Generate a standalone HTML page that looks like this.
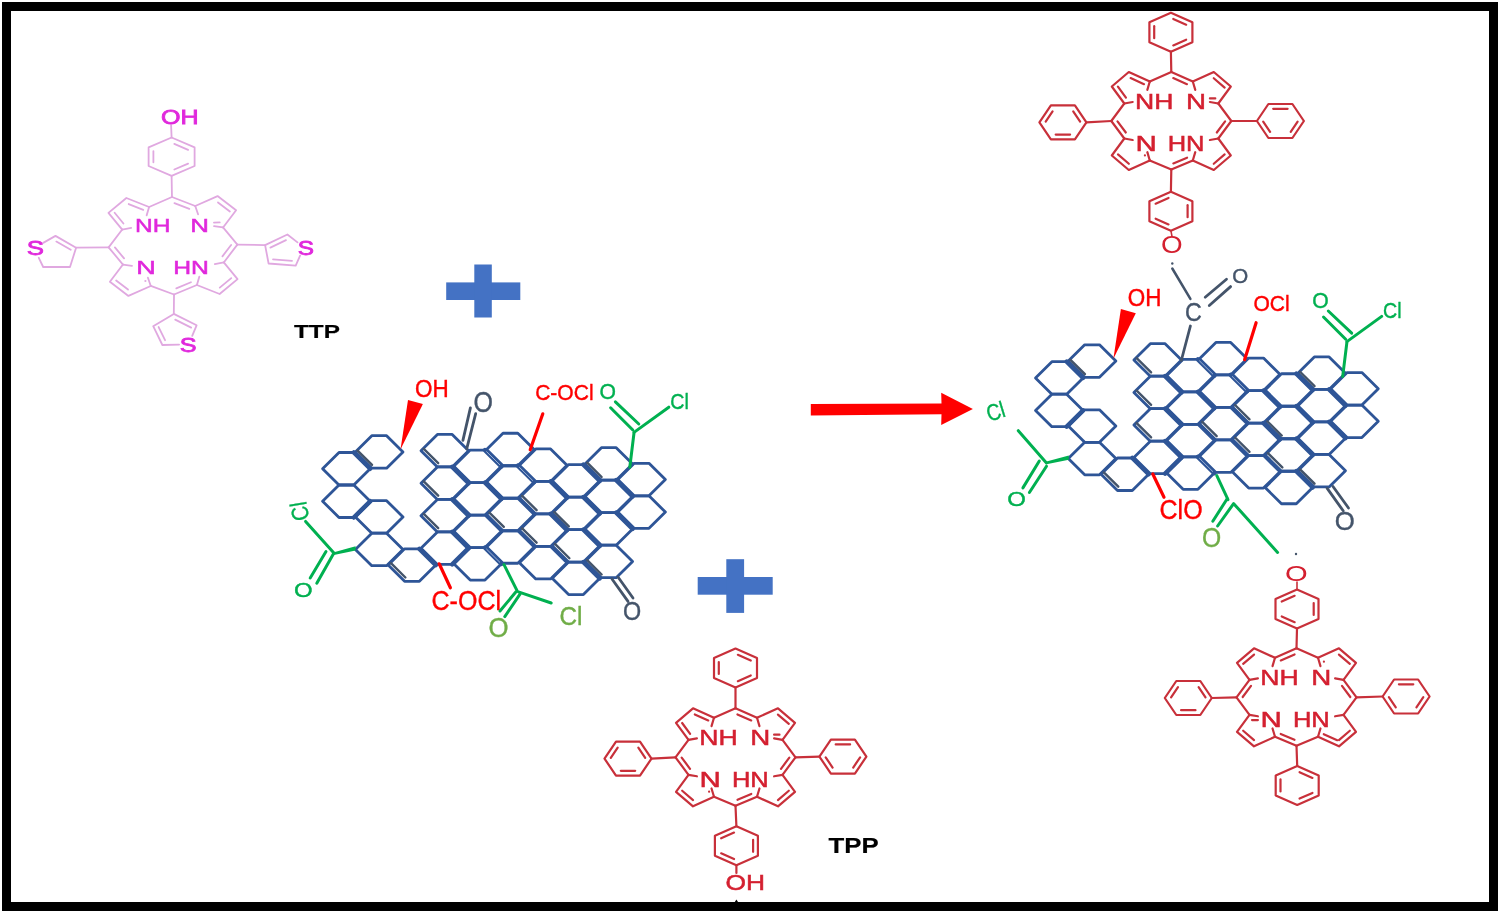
<!DOCTYPE html>
<html><head><meta charset="utf-8"><style>
html,body{margin:0;padding:0;background:#fff;width:1500px;height:913px;overflow:hidden}
svg{display:block;will-change:transform}
text{font-family:"Liberation Sans",sans-serif}
</style></head><body>
<svg width="1500" height="913" viewBox="0 0 1500 913">
<rect x="2" y="2" width="1496" height="909" fill="#000"/>
<rect x="11" y="11" width="1478" height="891" fill="#fff"/>
<rect x="446.2" y="282.4" width="74.1" height="17.6" fill="#4472C4"/>
<rect x="474.3" y="264.5" width="17.5" height="53" fill="#4472C4"/>
<rect x="697.7" y="577" width="75" height="17.7" fill="#4472C4"/>
<rect x="726.3" y="559.2" width="17.8" height="53.7" fill="#4472C4"/>
<path d="M810.8,404.1 L941.5,403.4 L941.2,392.7 L972.9,409.1 L941.2,425 L941.5,414.2 L810.8,415.5 Z" fill="#FF0000"/>
<path d="M355.4,451.9 L371.8,435.65 L386.6,435.65 L403,451.9 L386.6,468.15 L371.8,468.15 Z" fill="none" stroke="#2E5597" stroke-width="2.8" stroke-linejoin="round" stroke-linecap="round"/>
<path d="M322.6,468.75 L339,452.5 L353.8,452.5 L370.2,468.75 L353.8,485 L339,485 Z" fill="none" stroke="#2E5597" stroke-width="2.8" stroke-linejoin="round" stroke-linecap="round"/>
<path d="M322.6,501.25 L339,485 L353.8,485 L370.2,501.25 L353.8,517.5 L339,517.5 Z" fill="none" stroke="#2E5597" stroke-width="2.8" stroke-linejoin="round" stroke-linecap="round"/>
<path d="M355.4,516.9 L371.8,500.65 L386.6,500.65 L403,516.9 L386.6,533.15 L371.8,533.15 Z" fill="none" stroke="#2E5597" stroke-width="2.8" stroke-linejoin="round" stroke-linecap="round"/>
<path d="M355.4,549.4 L371.8,533.15 L386.6,533.15 L403,549.4 L386.6,565.65 L371.8,565.65 Z" fill="none" stroke="#2E5597" stroke-width="2.8" stroke-linejoin="round" stroke-linecap="round"/>
<path d="M388.2,565.05 L404.6,548.8 L419.4,548.8 L435.8,565.05 L419.4,581.3 L404.6,581.3 Z" fill="none" stroke="#2E5597" stroke-width="2.8" stroke-linejoin="round" stroke-linecap="round"/>
<path d="M421,450.7 L437.4,434.45 L452.2,434.45 L468.6,450.7 L452.2,466.95 L437.4,466.95 Z" fill="none" stroke="#2E5597" stroke-width="2.8" stroke-linejoin="round" stroke-linecap="round"/>
<path d="M421,483.2 L437.4,466.95 L452.2,466.95 L468.6,483.2 L452.2,499.45 L437.4,499.45 Z" fill="none" stroke="#2E5597" stroke-width="2.8" stroke-linejoin="round" stroke-linecap="round"/>
<path d="M421,515.7 L437.4,499.45 L452.2,499.45 L468.6,515.7 L452.2,531.95 L437.4,531.95 Z" fill="none" stroke="#2E5597" stroke-width="2.8" stroke-linejoin="round" stroke-linecap="round"/>
<path d="M421,548.2 L437.4,531.95 L452.2,531.95 L468.6,548.2 L452.2,564.45 L437.4,564.45 Z" fill="none" stroke="#2E5597" stroke-width="2.8" stroke-linejoin="round" stroke-linecap="round"/>
<path d="M453.8,466.35 L470.2,450.1 L485,450.1 L501.4,466.35 L485,482.6 L470.2,482.6 Z" fill="none" stroke="#2E5597" stroke-width="2.8" stroke-linejoin="round" stroke-linecap="round"/>
<path d="M453.8,498.85 L470.2,482.6 L485,482.6 L501.4,498.85 L485,515.1 L470.2,515.1 Z" fill="none" stroke="#2E5597" stroke-width="2.8" stroke-linejoin="round" stroke-linecap="round"/>
<path d="M453.8,531.35 L470.2,515.1 L485,515.1 L501.4,531.35 L485,547.6 L470.2,547.6 Z" fill="none" stroke="#2E5597" stroke-width="2.8" stroke-linejoin="round" stroke-linecap="round"/>
<path d="M453.8,563.85 L470.2,547.6 L485,547.6 L501.4,563.85 L485,580.1 L470.2,580.1 Z" fill="none" stroke="#2E5597" stroke-width="2.8" stroke-linejoin="round" stroke-linecap="round"/>
<path d="M486.6,449.5 L503,433.25 L517.8,433.25 L534.2,449.5 L517.8,465.75 L503,465.75 Z" fill="none" stroke="#2E5597" stroke-width="2.8" stroke-linejoin="round" stroke-linecap="round"/>
<path d="M486.6,482 L503,465.75 L517.8,465.75 L534.2,482 L517.8,498.25 L503,498.25 Z" fill="none" stroke="#2E5597" stroke-width="2.8" stroke-linejoin="round" stroke-linecap="round"/>
<path d="M486.6,514.5 L503,498.25 L517.8,498.25 L534.2,514.5 L517.8,530.75 L503,530.75 Z" fill="none" stroke="#2E5597" stroke-width="2.8" stroke-linejoin="round" stroke-linecap="round"/>
<path d="M486.6,547 L503,530.75 L517.8,530.75 L534.2,547 L517.8,563.25 L503,563.25 Z" fill="none" stroke="#2E5597" stroke-width="2.8" stroke-linejoin="round" stroke-linecap="round"/>
<path d="M519.4,465.15 L535.8,448.9 L550.6,448.9 L567,465.15 L550.6,481.4 L535.8,481.4 Z" fill="none" stroke="#2E5597" stroke-width="2.8" stroke-linejoin="round" stroke-linecap="round"/>
<path d="M519.4,497.65 L535.8,481.4 L550.6,481.4 L567,497.65 L550.6,513.9 L535.8,513.9 Z" fill="none" stroke="#2E5597" stroke-width="2.8" stroke-linejoin="round" stroke-linecap="round"/>
<path d="M519.4,530.15 L535.8,513.9 L550.6,513.9 L567,530.15 L550.6,546.4 L535.8,546.4 Z" fill="none" stroke="#2E5597" stroke-width="2.8" stroke-linejoin="round" stroke-linecap="round"/>
<path d="M519.4,562.65 L535.8,546.4 L550.6,546.4 L567,562.65 L550.6,578.9 L535.8,578.9 Z" fill="none" stroke="#2E5597" stroke-width="2.8" stroke-linejoin="round" stroke-linecap="round"/>
<path d="M552.2,480.8 L568.6,464.55 L583.4,464.55 L599.8,480.8 L583.4,497.05 L568.6,497.05 Z" fill="none" stroke="#2E5597" stroke-width="2.8" stroke-linejoin="round" stroke-linecap="round"/>
<path d="M552.2,513.3 L568.6,497.05 L583.4,497.05 L599.8,513.3 L583.4,529.55 L568.6,529.55 Z" fill="none" stroke="#2E5597" stroke-width="2.8" stroke-linejoin="round" stroke-linecap="round"/>
<path d="M552.2,545.8 L568.6,529.55 L583.4,529.55 L599.8,545.8 L583.4,562.05 L568.6,562.05 Z" fill="none" stroke="#2E5597" stroke-width="2.8" stroke-linejoin="round" stroke-linecap="round"/>
<path d="M552.2,578.3 L568.6,562.05 L583.4,562.05 L599.8,578.3 L583.4,594.55 L568.6,594.55 Z" fill="none" stroke="#2E5597" stroke-width="2.8" stroke-linejoin="round" stroke-linecap="round"/>
<path d="M585,463.95 L601.4,447.7 L616.2,447.7 L632.6,463.95 L616.2,480.2 L601.4,480.2 Z" fill="none" stroke="#2E5597" stroke-width="2.8" stroke-linejoin="round" stroke-linecap="round"/>
<path d="M585,496.45 L601.4,480.2 L616.2,480.2 L632.6,496.45 L616.2,512.7 L601.4,512.7 Z" fill="none" stroke="#2E5597" stroke-width="2.8" stroke-linejoin="round" stroke-linecap="round"/>
<path d="M585,528.95 L601.4,512.7 L616.2,512.7 L632.6,528.95 L616.2,545.2 L601.4,545.2 Z" fill="none" stroke="#2E5597" stroke-width="2.8" stroke-linejoin="round" stroke-linecap="round"/>
<path d="M585,561.45 L601.4,545.2 L616.2,545.2 L632.6,561.45 L616.2,577.7 L601.4,577.7 Z" fill="none" stroke="#2E5597" stroke-width="2.8" stroke-linejoin="round" stroke-linecap="round"/>
<path d="M617.8,479.6 L634.2,463.35 L649,463.35 L665.4,479.6 L649,495.85 L634.2,495.85 Z" fill="none" stroke="#2E5597" stroke-width="2.8" stroke-linejoin="round" stroke-linecap="round"/>
<path d="M617.8,512.1 L634.2,495.85 L649,495.85 L665.4,512.1 L649,528.35 L634.2,528.35 Z" fill="none" stroke="#2E5597" stroke-width="2.8" stroke-linejoin="round" stroke-linecap="round"/>
<line x1="353.8" y1="452.5" x2="370.2" y2="468.75" stroke="#2E5597" stroke-width="4.5" stroke-linecap="round"/>
<line x1="357.6" y1="450.63" x2="372.03" y2="464.93" stroke="#44546A" stroke-width="2.4" stroke-linecap="round"/>
<line x1="419.4" y1="548.8" x2="435.8" y2="565.05" stroke="#2E5597" stroke-width="4.5" stroke-linecap="round"/>
<line x1="423.76" y1="448.87" x2="438.19" y2="463.17" stroke="#44546A" stroke-width="2.4" stroke-linecap="round"/>
<line x1="423.76" y1="481.37" x2="438.19" y2="495.67" stroke="#44546A" stroke-width="2.4" stroke-linecap="round"/>
<line x1="423.76" y1="513.87" x2="438.19" y2="528.17" stroke="#44546A" stroke-width="2.4" stroke-linecap="round"/>
<line x1="390.96" y1="563.22" x2="405.39" y2="577.52" stroke="#44546A" stroke-width="2.4" stroke-linecap="round"/>
<line x1="452.2" y1="466.95" x2="468.6" y2="483.2" stroke="#2E5597" stroke-width="4.5" stroke-linecap="round"/>
<line x1="452.2" y1="499.45" x2="468.6" y2="515.7" stroke="#2E5597" stroke-width="4.5" stroke-linecap="round"/>
<line x1="452.2" y1="531.95" x2="468.6" y2="548.2" stroke="#2E5597" stroke-width="4.5" stroke-linecap="round"/>
<line x1="485" y1="450.1" x2="501.4" y2="466.35" stroke="#2E5597" stroke-width="4.5" stroke-linecap="round"/>
<line x1="486.64" y1="451.72" x2="499.76" y2="464.72" stroke="#9DB3D8" stroke-width="1" stroke-linecap="round"/>
<line x1="485" y1="482.6" x2="501.4" y2="498.85" stroke="#2E5597" stroke-width="4.5" stroke-linecap="round"/>
<line x1="489.36" y1="512.67" x2="503.79" y2="526.97" stroke="#44546A" stroke-width="2.4" stroke-linecap="round"/>
<line x1="485" y1="547.6" x2="501.4" y2="563.85" stroke="#2E5597" stroke-width="4.5" stroke-linecap="round"/>
<line x1="486.64" y1="549.22" x2="499.76" y2="562.22" stroke="#9DB3D8" stroke-width="1" stroke-linecap="round"/>
<line x1="517.8" y1="465.75" x2="534.2" y2="482" stroke="#2E5597" stroke-width="4.5" stroke-linecap="round"/>
<line x1="519.44" y1="467.38" x2="532.56" y2="480.38" stroke="#9DB3D8" stroke-width="1" stroke-linecap="round"/>
<line x1="522.16" y1="495.82" x2="536.59" y2="510.12" stroke="#44546A" stroke-width="2.4" stroke-linecap="round"/>
<line x1="522.16" y1="528.32" x2="536.59" y2="542.62" stroke="#44546A" stroke-width="2.4" stroke-linecap="round"/>
<line x1="550.6" y1="481.4" x2="567" y2="497.65" stroke="#2E5597" stroke-width="4.5" stroke-linecap="round"/>
<line x1="550.6" y1="513.9" x2="567" y2="530.15" stroke="#2E5597" stroke-width="4.5" stroke-linecap="round"/>
<line x1="554.4" y1="512.03" x2="568.83" y2="526.33" stroke="#44546A" stroke-width="2.4" stroke-linecap="round"/>
<line x1="554.96" y1="543.97" x2="569.39" y2="558.27" stroke="#44546A" stroke-width="2.4" stroke-linecap="round"/>
<line x1="583.4" y1="464.55" x2="599.8" y2="480.8" stroke="#2E5597" stroke-width="4.5" stroke-linecap="round"/>
<line x1="587.2" y1="462.68" x2="601.63" y2="476.98" stroke="#44546A" stroke-width="2.4" stroke-linecap="round"/>
<line x1="583.4" y1="497.05" x2="599.8" y2="513.3" stroke="#2E5597" stroke-width="4.5" stroke-linecap="round"/>
<line x1="583.4" y1="529.55" x2="599.8" y2="545.8" stroke="#2E5597" stroke-width="4.5" stroke-linecap="round"/>
<line x1="583.4" y1="562.05" x2="599.8" y2="578.3" stroke="#2E5597" stroke-width="4.5" stroke-linecap="round"/>
<line x1="587.2" y1="560.18" x2="601.63" y2="574.48" stroke="#44546A" stroke-width="2.4" stroke-linecap="round"/>
<line x1="616.2" y1="480.2" x2="632.6" y2="496.45" stroke="#2E5597" stroke-width="4.5" stroke-linecap="round"/>
<line x1="616.2" y1="512.7" x2="632.6" y2="528.95" stroke="#2E5597" stroke-width="4.5" stroke-linecap="round"/>
<line x1="370.2" y1="501.25" x2="353.8" y2="517.5" stroke="#2E5597" stroke-width="4.5" stroke-linecap="round"/>
<line x1="468.6" y1="548.2" x2="452.2" y2="564.45" stroke="#2E5597" stroke-width="4.5" stroke-linecap="round"/>
<path d="M1068.3,361.1 L1084.7,344.85 L1099.5,344.85 L1115.9,361.1 L1099.5,377.35 L1084.7,377.35 Z" fill="none" stroke="#2E5597" stroke-width="2.8" stroke-linejoin="round" stroke-linecap="round"/>
<path d="M1035.5,377.95 L1051.9,361.7 L1066.7,361.7 L1083.1,377.95 L1066.7,394.2 L1051.9,394.2 Z" fill="none" stroke="#2E5597" stroke-width="2.8" stroke-linejoin="round" stroke-linecap="round"/>
<path d="M1035.5,410.45 L1051.9,394.2 L1066.7,394.2 L1083.1,410.45 L1066.7,426.7 L1051.9,426.7 Z" fill="none" stroke="#2E5597" stroke-width="2.8" stroke-linejoin="round" stroke-linecap="round"/>
<path d="M1068.3,426.1 L1084.7,409.85 L1099.5,409.85 L1115.9,426.1 L1099.5,442.35 L1084.7,442.35 Z" fill="none" stroke="#2E5597" stroke-width="2.8" stroke-linejoin="round" stroke-linecap="round"/>
<path d="M1068.3,458.6 L1084.7,442.35 L1099.5,442.35 L1115.9,458.6 L1099.5,474.85 L1084.7,474.85 Z" fill="none" stroke="#2E5597" stroke-width="2.8" stroke-linejoin="round" stroke-linecap="round"/>
<path d="M1101.1,474.25 L1117.5,458 L1132.3,458 L1148.7,474.25 L1132.3,490.5 L1117.5,490.5 Z" fill="none" stroke="#2E5597" stroke-width="2.8" stroke-linejoin="round" stroke-linecap="round"/>
<path d="M1133.9,359.9 L1150.3,343.65 L1165.1,343.65 L1181.5,359.9 L1165.1,376.15 L1150.3,376.15 Z" fill="none" stroke="#2E5597" stroke-width="2.8" stroke-linejoin="round" stroke-linecap="round"/>
<path d="M1133.9,392.4 L1150.3,376.15 L1165.1,376.15 L1181.5,392.4 L1165.1,408.65 L1150.3,408.65 Z" fill="none" stroke="#2E5597" stroke-width="2.8" stroke-linejoin="round" stroke-linecap="round"/>
<path d="M1133.9,424.9 L1150.3,408.65 L1165.1,408.65 L1181.5,424.9 L1165.1,441.15 L1150.3,441.15 Z" fill="none" stroke="#2E5597" stroke-width="2.8" stroke-linejoin="round" stroke-linecap="round"/>
<path d="M1133.9,457.4 L1150.3,441.15 L1165.1,441.15 L1181.5,457.4 L1165.1,473.65 L1150.3,473.65 Z" fill="none" stroke="#2E5597" stroke-width="2.8" stroke-linejoin="round" stroke-linecap="round"/>
<path d="M1166.7,375.55 L1183.1,359.3 L1197.9,359.3 L1214.3,375.55 L1197.9,391.8 L1183.1,391.8 Z" fill="none" stroke="#2E5597" stroke-width="2.8" stroke-linejoin="round" stroke-linecap="round"/>
<path d="M1166.7,408.05 L1183.1,391.8 L1197.9,391.8 L1214.3,408.05 L1197.9,424.3 L1183.1,424.3 Z" fill="none" stroke="#2E5597" stroke-width="2.8" stroke-linejoin="round" stroke-linecap="round"/>
<path d="M1166.7,440.55 L1183.1,424.3 L1197.9,424.3 L1214.3,440.55 L1197.9,456.8 L1183.1,456.8 Z" fill="none" stroke="#2E5597" stroke-width="2.8" stroke-linejoin="round" stroke-linecap="round"/>
<path d="M1166.7,473.05 L1183.1,456.8 L1197.9,456.8 L1214.3,473.05 L1197.9,489.3 L1183.1,489.3 Z" fill="none" stroke="#2E5597" stroke-width="2.8" stroke-linejoin="round" stroke-linecap="round"/>
<path d="M1199.5,358.7 L1215.9,342.45 L1230.7,342.45 L1247.1,358.7 L1230.7,374.95 L1215.9,374.95 Z" fill="none" stroke="#2E5597" stroke-width="2.8" stroke-linejoin="round" stroke-linecap="round"/>
<path d="M1199.5,391.2 L1215.9,374.95 L1230.7,374.95 L1247.1,391.2 L1230.7,407.45 L1215.9,407.45 Z" fill="none" stroke="#2E5597" stroke-width="2.8" stroke-linejoin="round" stroke-linecap="round"/>
<path d="M1199.5,423.7 L1215.9,407.45 L1230.7,407.45 L1247.1,423.7 L1230.7,439.95 L1215.9,439.95 Z" fill="none" stroke="#2E5597" stroke-width="2.8" stroke-linejoin="round" stroke-linecap="round"/>
<path d="M1199.5,456.2 L1215.9,439.95 L1230.7,439.95 L1247.1,456.2 L1230.7,472.45 L1215.9,472.45 Z" fill="none" stroke="#2E5597" stroke-width="2.8" stroke-linejoin="round" stroke-linecap="round"/>
<path d="M1232.3,374.35 L1248.7,358.1 L1263.5,358.1 L1279.9,374.35 L1263.5,390.6 L1248.7,390.6 Z" fill="none" stroke="#2E5597" stroke-width="2.8" stroke-linejoin="round" stroke-linecap="round"/>
<path d="M1232.3,406.85 L1248.7,390.6 L1263.5,390.6 L1279.9,406.85 L1263.5,423.1 L1248.7,423.1 Z" fill="none" stroke="#2E5597" stroke-width="2.8" stroke-linejoin="round" stroke-linecap="round"/>
<path d="M1232.3,439.35 L1248.7,423.1 L1263.5,423.1 L1279.9,439.35 L1263.5,455.6 L1248.7,455.6 Z" fill="none" stroke="#2E5597" stroke-width="2.8" stroke-linejoin="round" stroke-linecap="round"/>
<path d="M1232.3,471.85 L1248.7,455.6 L1263.5,455.6 L1279.9,471.85 L1263.5,488.1 L1248.7,488.1 Z" fill="none" stroke="#2E5597" stroke-width="2.8" stroke-linejoin="round" stroke-linecap="round"/>
<path d="M1265.1,390 L1281.5,373.75 L1296.3,373.75 L1312.7,390 L1296.3,406.25 L1281.5,406.25 Z" fill="none" stroke="#2E5597" stroke-width="2.8" stroke-linejoin="round" stroke-linecap="round"/>
<path d="M1265.1,422.5 L1281.5,406.25 L1296.3,406.25 L1312.7,422.5 L1296.3,438.75 L1281.5,438.75 Z" fill="none" stroke="#2E5597" stroke-width="2.8" stroke-linejoin="round" stroke-linecap="round"/>
<path d="M1265.1,455 L1281.5,438.75 L1296.3,438.75 L1312.7,455 L1296.3,471.25 L1281.5,471.25 Z" fill="none" stroke="#2E5597" stroke-width="2.8" stroke-linejoin="round" stroke-linecap="round"/>
<path d="M1265.1,487.5 L1281.5,471.25 L1296.3,471.25 L1312.7,487.5 L1296.3,503.75 L1281.5,503.75 Z" fill="none" stroke="#2E5597" stroke-width="2.8" stroke-linejoin="round" stroke-linecap="round"/>
<path d="M1297.9,373.15 L1314.3,356.9 L1329.1,356.9 L1345.5,373.15 L1329.1,389.4 L1314.3,389.4 Z" fill="none" stroke="#2E5597" stroke-width="2.8" stroke-linejoin="round" stroke-linecap="round"/>
<path d="M1297.9,405.65 L1314.3,389.4 L1329.1,389.4 L1345.5,405.65 L1329.1,421.9 L1314.3,421.9 Z" fill="none" stroke="#2E5597" stroke-width="2.8" stroke-linejoin="round" stroke-linecap="round"/>
<path d="M1297.9,438.15 L1314.3,421.9 L1329.1,421.9 L1345.5,438.15 L1329.1,454.4 L1314.3,454.4 Z" fill="none" stroke="#2E5597" stroke-width="2.8" stroke-linejoin="round" stroke-linecap="round"/>
<path d="M1297.9,470.65 L1314.3,454.4 L1329.1,454.4 L1345.5,470.65 L1329.1,486.9 L1314.3,486.9 Z" fill="none" stroke="#2E5597" stroke-width="2.8" stroke-linejoin="round" stroke-linecap="round"/>
<path d="M1330.7,388.8 L1347.1,372.55 L1361.9,372.55 L1378.3,388.8 L1361.9,405.05 L1347.1,405.05 Z" fill="none" stroke="#2E5597" stroke-width="2.8" stroke-linejoin="round" stroke-linecap="round"/>
<path d="M1330.7,421.3 L1347.1,405.05 L1361.9,405.05 L1378.3,421.3 L1361.9,437.55 L1347.1,437.55 Z" fill="none" stroke="#2E5597" stroke-width="2.8" stroke-linejoin="round" stroke-linecap="round"/>
<line x1="1066.7" y1="361.7" x2="1083.1" y2="377.95" stroke="#2E5597" stroke-width="4.5" stroke-linecap="round"/>
<line x1="1070.5" y1="359.83" x2="1084.93" y2="374.13" stroke="#44546A" stroke-width="2.4" stroke-linecap="round"/>
<line x1="1132.3" y1="458" x2="1148.7" y2="474.25" stroke="#2E5597" stroke-width="4.5" stroke-linecap="round"/>
<line x1="1136.66" y1="358.07" x2="1151.09" y2="372.37" stroke="#44546A" stroke-width="2.4" stroke-linecap="round"/>
<line x1="1136.66" y1="390.57" x2="1151.09" y2="404.87" stroke="#44546A" stroke-width="2.4" stroke-linecap="round"/>
<line x1="1136.66" y1="423.07" x2="1151.09" y2="437.37" stroke="#44546A" stroke-width="2.4" stroke-linecap="round"/>
<line x1="1103.86" y1="472.42" x2="1118.29" y2="486.72" stroke="#44546A" stroke-width="2.4" stroke-linecap="round"/>
<line x1="1165.1" y1="376.15" x2="1181.5" y2="392.4" stroke="#2E5597" stroke-width="4.5" stroke-linecap="round"/>
<line x1="1165.1" y1="408.65" x2="1181.5" y2="424.9" stroke="#2E5597" stroke-width="4.5" stroke-linecap="round"/>
<line x1="1165.1" y1="441.15" x2="1181.5" y2="457.4" stroke="#2E5597" stroke-width="4.5" stroke-linecap="round"/>
<line x1="1197.9" y1="359.3" x2="1214.3" y2="375.55" stroke="#2E5597" stroke-width="4.5" stroke-linecap="round"/>
<line x1="1199.54" y1="360.92" x2="1212.66" y2="373.92" stroke="#9DB3D8" stroke-width="1" stroke-linecap="round"/>
<line x1="1197.9" y1="391.8" x2="1214.3" y2="408.05" stroke="#2E5597" stroke-width="4.5" stroke-linecap="round"/>
<line x1="1202.26" y1="421.87" x2="1216.69" y2="436.17" stroke="#44546A" stroke-width="2.4" stroke-linecap="round"/>
<line x1="1197.9" y1="456.8" x2="1214.3" y2="473.05" stroke="#2E5597" stroke-width="4.5" stroke-linecap="round"/>
<line x1="1199.54" y1="458.42" x2="1212.66" y2="471.42" stroke="#9DB3D8" stroke-width="1" stroke-linecap="round"/>
<line x1="1230.7" y1="374.95" x2="1247.1" y2="391.2" stroke="#2E5597" stroke-width="4.5" stroke-linecap="round"/>
<line x1="1232.34" y1="376.57" x2="1245.46" y2="389.57" stroke="#9DB3D8" stroke-width="1" stroke-linecap="round"/>
<line x1="1235.06" y1="405.02" x2="1249.49" y2="419.32" stroke="#44546A" stroke-width="2.4" stroke-linecap="round"/>
<line x1="1235.06" y1="437.52" x2="1249.49" y2="451.82" stroke="#44546A" stroke-width="2.4" stroke-linecap="round"/>
<line x1="1263.5" y1="390.6" x2="1279.9" y2="406.85" stroke="#2E5597" stroke-width="4.5" stroke-linecap="round"/>
<line x1="1263.5" y1="423.1" x2="1279.9" y2="439.35" stroke="#2E5597" stroke-width="4.5" stroke-linecap="round"/>
<line x1="1267.3" y1="421.23" x2="1281.73" y2="435.53" stroke="#44546A" stroke-width="2.4" stroke-linecap="round"/>
<line x1="1267.86" y1="453.17" x2="1282.29" y2="467.47" stroke="#44546A" stroke-width="2.4" stroke-linecap="round"/>
<line x1="1296.3" y1="373.75" x2="1312.7" y2="390" stroke="#2E5597" stroke-width="4.5" stroke-linecap="round"/>
<line x1="1300.1" y1="371.88" x2="1314.53" y2="386.18" stroke="#44546A" stroke-width="2.4" stroke-linecap="round"/>
<line x1="1296.3" y1="406.25" x2="1312.7" y2="422.5" stroke="#2E5597" stroke-width="4.5" stroke-linecap="round"/>
<line x1="1296.3" y1="438.75" x2="1312.7" y2="455" stroke="#2E5597" stroke-width="4.5" stroke-linecap="round"/>
<line x1="1296.3" y1="471.25" x2="1312.7" y2="487.5" stroke="#2E5597" stroke-width="4.5" stroke-linecap="round"/>
<line x1="1300.1" y1="469.38" x2="1314.53" y2="483.68" stroke="#44546A" stroke-width="2.4" stroke-linecap="round"/>
<line x1="1329.1" y1="389.4" x2="1345.5" y2="405.65" stroke="#2E5597" stroke-width="4.5" stroke-linecap="round"/>
<line x1="1329.1" y1="421.9" x2="1345.5" y2="438.15" stroke="#2E5597" stroke-width="4.5" stroke-linecap="round"/>
<line x1="1083.1" y1="410.45" x2="1066.7" y2="426.7" stroke="#2E5597" stroke-width="4.5" stroke-linecap="round"/>
<line x1="1181.5" y1="457.4" x2="1165.1" y2="473.65" stroke="#2E5597" stroke-width="4.5" stroke-linecap="round"/>
<path d="M400.5,449.5 L408,399.9 L422.9,404.1 Z" fill="#FF0000"/>
<text transform="translate(414.93,396.96) scale(0.93,1)" font-size="24.15" fill="#FF0000" stroke="#FF0000" stroke-width="0.4">OH</text>
<line x1="629.8" y1="467.2" x2="634" y2="433" stroke="#00B050" stroke-width="3" stroke-linecap="round"/>
<line x1="634" y1="432.4" x2="668.8" y2="407.2" stroke="#00B050" stroke-width="3" stroke-linecap="round"/>
<line x1="632.8" y1="430" x2="610.6" y2="407.8" stroke="#00B050" stroke-width="3" stroke-linecap="round"/>
<line x1="638.8" y1="424" x2="615.4" y2="401.8" stroke="#00B050" stroke-width="3" stroke-linecap="round"/>
<text transform="translate(599.4,398.58) scale(0.96,1)" font-size="22.03" fill="#00B050" stroke="#00B050" stroke-width="0.4">O</text>
<text transform="translate(670.2,408.78) scale(0.86,1)" font-size="22.88" fill="#00B050" stroke="#00B050" stroke-width="0.4">Cl</text>
<path d="M1113.4,358.7 L1120.9,309.1 L1135.8,313.3 Z" fill="#FF0000"/>
<text transform="translate(1127.83,306.16) scale(0.93,1)" font-size="24.15" fill="#FF0000" stroke="#FF0000" stroke-width="0.4">OH</text>
<line x1="1342.7" y1="376.4" x2="1346.9" y2="342.2" stroke="#00B050" stroke-width="3" stroke-linecap="round"/>
<line x1="1346.9" y1="341.6" x2="1381.7" y2="316.4" stroke="#00B050" stroke-width="3" stroke-linecap="round"/>
<line x1="1345.7" y1="339.2" x2="1323.5" y2="317" stroke="#00B050" stroke-width="3" stroke-linecap="round"/>
<line x1="1351.7" y1="333.2" x2="1328.3" y2="311" stroke="#00B050" stroke-width="3" stroke-linecap="round"/>
<text transform="translate(1312.3,307.78) scale(0.96,1)" font-size="22.03" fill="#00B050" stroke="#00B050" stroke-width="0.4">O</text>
<text transform="translate(1383.1,317.98) scale(0.86,1)" font-size="22.88" fill="#00B050" stroke="#00B050" stroke-width="0.4">Cl</text>
<line x1="462.9" y1="440.4" x2="470.4" y2="407.9" stroke="#44546A" stroke-width="2.8" stroke-linecap="round"/>
<line x1="466.7" y1="448.9" x2="475.7" y2="413.7" stroke="#44546A" stroke-width="2.8" stroke-linecap="round"/>
<text transform="translate(473.52,412.42) scale(0.87,1)" font-size="28.67" fill="#44546A" stroke="#44546A" stroke-width="0.4">O</text>
<line x1="530.2" y1="449.8" x2="542.8" y2="413.8" stroke="#FF0000" stroke-width="3.2" stroke-linecap="round"/>
<text transform="translate(535.13,399.78) scale(0.92,1)" font-size="22.88" fill="#FF0000" stroke="#FF0000" stroke-width="0.4">C-OCl</text>
<text transform="translate(299.3,511.5) rotate(-100) translate(-9.38,8.37) scale(0.86,1)" font-size="23.42" fill="#00B050" stroke="#00B050" stroke-width="0.4">Cl</text>
<line x1="305.6" y1="521.4" x2="333.9" y2="552.9" stroke="#00B050" stroke-width="3" stroke-linecap="round"/>
<path d="M333.9,552.3 L355.6,546.3 L355.6,550.5 L333.9,555 Z" fill="#00B050"/>
<line x1="333.2" y1="554.2" x2="316.8" y2="583.2" stroke="#00B050" stroke-width="3" stroke-linecap="round"/>
<line x1="326" y1="551.6" x2="310.2" y2="577.9" stroke="#00B050" stroke-width="3" stroke-linecap="round"/>
<text transform="translate(293.96,596.81) scale(1.23,1)" font-size="19.49" fill="#00B050" stroke="#00B050" stroke-width="0.4">O</text>
<line x1="439.2" y1="563.8" x2="450.4" y2="587.8" stroke="#FF0000" stroke-width="3.2" stroke-linecap="round"/>
<text transform="translate(431.53,609.93) scale(0.92,1)" font-size="27.23" fill="#FF0000" stroke="#FF0000" stroke-width="0.4">C-OCl</text>
<line x1="504" y1="564.6" x2="516.8" y2="590.2" stroke="#00B050" stroke-width="3" stroke-linecap="round"/>
<line x1="518.4" y1="591.8" x2="551.2" y2="603" stroke="#00B050" stroke-width="3" stroke-linecap="round"/>
<line x1="516" y1="591.8" x2="500" y2="611" stroke="#00B050" stroke-width="3" stroke-linecap="round"/>
<line x1="520" y1="594.2" x2="504.8" y2="616.6" stroke="#00B050" stroke-width="3" stroke-linecap="round"/>
<text transform="translate(488.38,637.14) scale(0.95,1)" font-size="27.12" fill="#70AD47" stroke="#70AD47" stroke-width="0.4">O</text>
<text transform="translate(559.57,625.14) scale(0.93,1)" font-size="26.14" fill="#70AD47" stroke="#70AD47" stroke-width="0.4">Cl</text>
<line x1="612" y1="579" x2="628" y2="601.4" stroke="#44546A" stroke-width="2.8" stroke-linecap="round"/>
<line x1="618" y1="577" x2="633" y2="598" stroke="#44546A" stroke-width="2.8" stroke-linecap="round"/>
<text transform="translate(622.89,620.35) scale(0.9,1)" font-size="25.99" fill="#44546A" stroke="#44546A" stroke-width="0.4">O</text>
<line x1="1181.3" y1="360.5" x2="1190.4" y2="326" stroke="#44546A" stroke-width="2.8" stroke-linecap="round"/>
<text transform="translate(1185.11,320.85) scale(0.91,1)" font-size="25.56" fill="#44546A" stroke="#44546A" stroke-width="0.4">C</text>
<line x1="1205.2" y1="297.2" x2="1226.5" y2="279.2" stroke="#44546A" stroke-width="2.8" stroke-linecap="round"/>
<line x1="1209.3" y1="305.5" x2="1230.6" y2="286.6" stroke="#44546A" stroke-width="2.8" stroke-linecap="round"/>
<text transform="translate(1232.13,283.1) scale(0.98,1)" font-size="20.9" fill="#44546A" stroke="#44546A" stroke-width="0.4">O</text>
<line x1="1172.3" y1="268.5" x2="1190.4" y2="298.9" stroke="#44546A" stroke-width="2.5" stroke-linecap="round"/>
<circle cx="1172.3" cy="263.5" r="1.2" fill="#44546A"/>
<line x1="1256.1" y1="322.7" x2="1244.6" y2="359.7" stroke="#FF0000" stroke-width="3.2" stroke-linecap="round"/>
<text transform="translate(1253.51,310.99) scale(0.99,1)" font-size="21.24" fill="#FF0000" stroke="#FF0000" stroke-width="0.4">OCl</text>
<text transform="translate(995.4,411.2) rotate(-17) translate(-8.98,8.23) scale(0.84,1)" font-size="23.01" fill="#00B050" stroke="#00B050" stroke-width="0.4">Cl</text>
<line x1="1018.3" y1="430.7" x2="1046.5" y2="462.9" stroke="#00B050" stroke-width="3" stroke-linecap="round"/>
<path d="M1046.5,461.5 L1068.8,455.5 L1068.8,459.7 L1046.5,464.3 Z" fill="#00B050"/>
<line x1="1039.3" y1="461" x2="1022.9" y2="487.9" stroke="#00B050" stroke-width="3" stroke-linecap="round"/>
<line x1="1046.5" y1="466.2" x2="1029.4" y2="492.5" stroke="#00B050" stroke-width="3" stroke-linecap="round"/>
<text transform="translate(1007.26,506.11) scale(1.23,1)" font-size="19.49" fill="#00B050" stroke="#00B050" stroke-width="0.4">O</text>
<line x1="1152.8" y1="474" x2="1164" y2="497.2" stroke="#FF0000" stroke-width="3.2" stroke-linecap="round"/>
<text transform="translate(1159.52,519.33) scale(0.92,1)" font-size="27.23" fill="#FF0000" stroke="#FF0000" stroke-width="0.4">ClO</text>
<line x1="1216.8" y1="475.6" x2="1228" y2="499.6" stroke="#00B050" stroke-width="3" stroke-linecap="round"/>
<line x1="1227.2" y1="498.8" x2="1212.8" y2="521.2" stroke="#00B050" stroke-width="3" stroke-linecap="round"/>
<line x1="1233.6" y1="503.6" x2="1217.6" y2="526" stroke="#00B050" stroke-width="3" stroke-linecap="round"/>
<line x1="1234.4" y1="504.4" x2="1277.6" y2="552.4" stroke="#00B050" stroke-width="3" stroke-linecap="round"/>
<text transform="translate(1202.03,547.34) scale(0.91,1)" font-size="27.12" fill="#70AD47" stroke="#70AD47" stroke-width="0.4">O</text>
<circle cx="1296" cy="554" r="1.2" fill="#44546A"/>
<line x1="1327.2" y1="488.4" x2="1343.2" y2="510.8" stroke="#44546A" stroke-width="2.8" stroke-linecap="round"/>
<line x1="1333" y1="486.5" x2="1348.5" y2="508" stroke="#44546A" stroke-width="2.8" stroke-linecap="round"/>
<text transform="translate(1334.78,529.75) scale(0.99,1)" font-size="25.99" fill="#44546A" stroke="#44546A" stroke-width="0.4">O</text>
<line x1="735.5" y1="708.3" x2="714" y2="717.8" stroke="#C8303A" stroke-width="2.2" stroke-linecap="round"/>
<line x1="675.5" y1="757.3" x2="688.5" y2="739.8" stroke="#C8303A" stroke-width="2.2" stroke-linecap="round"/>
<path d="M714,717.8 L693,708.3 L676,722.8 L688.5,739.8" fill="none" stroke="#C8303A" stroke-width="2.2" stroke-linejoin="round" stroke-linecap="round"/>
<line x1="688.5" y1="739.8" x2="696.9" y2="738.33" stroke="#C8303A" stroke-width="2.2" stroke-linecap="round"/>
<line x1="714" y1="717.8" x2="711.52" y2="726.12" stroke="#C8303A" stroke-width="2.2" stroke-linecap="round"/>
<line x1="735.5" y1="708.3" x2="757" y2="717.8" stroke="#C8303A" stroke-width="2.2" stroke-linecap="round"/>
<line x1="795.5" y1="757.3" x2="782.5" y2="739.8" stroke="#C8303A" stroke-width="2.2" stroke-linecap="round"/>
<path d="M757,717.8 L778,708.3 L795,722.8 L782.5,739.8" fill="none" stroke="#C8303A" stroke-width="2.2" stroke-linejoin="round" stroke-linecap="round"/>
<line x1="782.5" y1="739.8" x2="774.1" y2="738.33" stroke="#C8303A" stroke-width="2.2" stroke-linecap="round"/>
<line x1="757" y1="717.8" x2="759.48" y2="726.12" stroke="#C8303A" stroke-width="2.2" stroke-linecap="round"/>
<line x1="735.5" y1="805.8" x2="714" y2="796.8" stroke="#C8303A" stroke-width="2.2" stroke-linecap="round"/>
<line x1="675.5" y1="757.3" x2="688.5" y2="774.8" stroke="#C8303A" stroke-width="2.2" stroke-linecap="round"/>
<path d="M714,796.8 L693,806.3 L676,791.8 L688.5,774.8" fill="none" stroke="#C8303A" stroke-width="2.2" stroke-linejoin="round" stroke-linecap="round"/>
<line x1="688.5" y1="774.8" x2="696.9" y2="776.27" stroke="#C8303A" stroke-width="2.2" stroke-linecap="round"/>
<line x1="714" y1="796.8" x2="711.52" y2="788.47" stroke="#C8303A" stroke-width="2.2" stroke-linecap="round"/>
<line x1="735.5" y1="805.8" x2="757" y2="796.8" stroke="#C8303A" stroke-width="2.2" stroke-linecap="round"/>
<line x1="795.5" y1="757.3" x2="782.5" y2="774.8" stroke="#C8303A" stroke-width="2.2" stroke-linecap="round"/>
<path d="M757,796.8 L778,806.3 L795,791.8 L782.5,774.8" fill="none" stroke="#C8303A" stroke-width="2.2" stroke-linejoin="round" stroke-linecap="round"/>
<line x1="782.5" y1="774.8" x2="774.1" y2="776.27" stroke="#C8303A" stroke-width="2.2" stroke-linecap="round"/>
<line x1="757" y1="796.8" x2="759.48" y2="788.47" stroke="#C8303A" stroke-width="2.2" stroke-linecap="round"/>
<line x1="779.5" y1="734.7" x2="774.1" y2="734.7" stroke="#C8303A" stroke-width="2.2" stroke-linecap="round"/>
<circle cx="709.1" cy="791.7" r="1.1" fill="#C8303A"/>
<line x1="708.24" y1="720.46" x2="694.8" y2="714.38" stroke="#C8303A" stroke-width="2.2" stroke-linecap="round"/>
<line x1="682.12" y1="723.02" x2="690.12" y2="733.9" stroke="#C8303A" stroke-width="2.2" stroke-linecap="round"/>
<line x1="737.43" y1="714.4" x2="751.19" y2="720.48" stroke="#C8303A" stroke-width="2.2" stroke-linecap="round"/>
<line x1="777.95" y1="714.56" x2="788.83" y2="723.84" stroke="#C8303A" stroke-width="2.2" stroke-linecap="round"/>
<line x1="789.31" y1="757.59" x2="780.99" y2="768.79" stroke="#C8303A" stroke-width="2.2" stroke-linecap="round"/>
<line x1="788.83" y1="790.76" x2="777.95" y2="800.04" stroke="#C8303A" stroke-width="2.2" stroke-linecap="round"/>
<line x1="737.52" y1="799.75" x2="751.28" y2="793.99" stroke="#C8303A" stroke-width="2.2" stroke-linecap="round"/>
<line x1="682.17" y1="790.76" x2="693.05" y2="800.04" stroke="#C8303A" stroke-width="2.2" stroke-linecap="round"/>
<line x1="681.69" y1="757.59" x2="690.01" y2="768.79" stroke="#C8303A" stroke-width="2.2" stroke-linecap="round"/>
<text transform="translate(699.32,744.8) scale(1.18,1)" font-size="22.53" fill="#D42030" stroke="#D42030" stroke-width="0.5">NH</text>
<text transform="translate(750.22,744.8) scale(1.23,1)" font-size="22.53" fill="#D42030" stroke="#D42030" stroke-width="0.5">N</text>
<text transform="translate(699.58,786.9) scale(1.35,1)" font-size="21.8" fill="#D42030" stroke="#D42030" stroke-width="0.5">N</text>
<text transform="translate(731.9,786.9) scale(1.17,1)" font-size="21.8" fill="#D42030" stroke="#D42030" stroke-width="0.5">HN</text>
<path d="M735.5,648.5 L757,658 L757,678 L735.5,687.5 L714,678 L714,658 Z" fill="none" stroke="#C8303A" stroke-width="2.2" stroke-linejoin="round" stroke-linecap="round"/>
<line x1="737.86" y1="654.79" x2="750.76" y2="660.49" stroke="#C8303A" stroke-width="2.2" stroke-linecap="round"/>
<line x1="750.76" y1="675.51" x2="737.86" y2="681.21" stroke="#C8303A" stroke-width="2.2" stroke-linecap="round"/>
<line x1="718.8" y1="674" x2="718.8" y2="662" stroke="#C8303A" stroke-width="2.2" stroke-linecap="round"/>
<line x1="735.5" y1="708.3" x2="735.5" y2="687.5" stroke="#C8303A" stroke-width="2.2" stroke-linecap="round"/>
<path d="M736.4,826.3 L757.9,835.8 L757.9,855.8 L736.4,865.3 L714.9,855.8 L714.9,835.8 Z" fill="none" stroke="#C8303A" stroke-width="2.2" stroke-linejoin="round" stroke-linecap="round"/>
<line x1="721.14" y1="838.29" x2="734.04" y2="832.59" stroke="#C8303A" stroke-width="2.2" stroke-linecap="round"/>
<line x1="753.1" y1="839.8" x2="753.1" y2="851.8" stroke="#C8303A" stroke-width="2.2" stroke-linecap="round"/>
<line x1="734.04" y1="859.01" x2="721.14" y2="853.31" stroke="#C8303A" stroke-width="2.2" stroke-linecap="round"/>
<line x1="735.5" y1="805.8" x2="736.4" y2="826.3" stroke="#C8303A" stroke-width="2.2" stroke-linecap="round"/>
<path d="M604.5,758.6 L616,741.6 L640,741.6 L651.5,758.6 L640,775.6 L616,775.6 Z" fill="none" stroke="#C8303A" stroke-width="2.2" stroke-linejoin="round" stroke-linecap="round"/>
<line x1="610.78" y1="757.89" x2="617.68" y2="747.69" stroke="#C8303A" stroke-width="2.2" stroke-linecap="round"/>
<line x1="638.32" y1="747.69" x2="645.22" y2="757.89" stroke="#C8303A" stroke-width="2.2" stroke-linecap="round"/>
<line x1="635.2" y1="770.8" x2="620.8" y2="770.8" stroke="#C8303A" stroke-width="2.2" stroke-linecap="round"/>
<line x1="675.5" y1="757.3" x2="651.5" y2="758.6" stroke="#C8303A" stroke-width="2.2" stroke-linecap="round"/>
<path d="M819.4,756.6 L830.9,739.6 L854.9,739.6 L866.4,756.6 L854.9,773.6 L830.9,773.6 Z" fill="none" stroke="#C8303A" stroke-width="2.2" stroke-linejoin="round" stroke-linecap="round"/>
<line x1="835.7" y1="744.4" x2="850.1" y2="744.4" stroke="#C8303A" stroke-width="2.2" stroke-linecap="round"/>
<line x1="860.12" y1="757.31" x2="853.22" y2="767.51" stroke="#C8303A" stroke-width="2.2" stroke-linecap="round"/>
<line x1="832.58" y1="767.51" x2="825.68" y2="757.31" stroke="#C8303A" stroke-width="2.2" stroke-linecap="round"/>
<line x1="795.5" y1="757.3" x2="819.4" y2="756.6" stroke="#C8303A" stroke-width="2.2" stroke-linecap="round"/>
<line x1="736.4" y1="865.3" x2="736.4" y2="873" stroke="#C8303A" stroke-width="2.2" stroke-linecap="round"/>
<text transform="translate(725.45,889.58) scale(1.19,1)" font-size="22.17" fill="#D42030" stroke="#D42030" stroke-width="0.5">OH</text>
<line x1="1171.3" y1="72" x2="1149.8" y2="81.5" stroke="#C8303A" stroke-width="2.2" stroke-linecap="round"/>
<line x1="1111.3" y1="121" x2="1124.3" y2="103.5" stroke="#C8303A" stroke-width="2.2" stroke-linecap="round"/>
<path d="M1149.8,81.5 L1128.8,72 L1111.8,86.5 L1124.3,103.5" fill="none" stroke="#C8303A" stroke-width="2.2" stroke-linejoin="round" stroke-linecap="round"/>
<line x1="1124.3" y1="103.5" x2="1132.7" y2="102.03" stroke="#C8303A" stroke-width="2.2" stroke-linecap="round"/>
<line x1="1149.8" y1="81.5" x2="1147.33" y2="89.83" stroke="#C8303A" stroke-width="2.2" stroke-linecap="round"/>
<line x1="1171.3" y1="72" x2="1192.8" y2="81.5" stroke="#C8303A" stroke-width="2.2" stroke-linecap="round"/>
<line x1="1231.3" y1="121" x2="1218.3" y2="103.5" stroke="#C8303A" stroke-width="2.2" stroke-linecap="round"/>
<path d="M1192.8,81.5 L1213.8,72 L1230.8,86.5 L1218.3,103.5" fill="none" stroke="#C8303A" stroke-width="2.2" stroke-linejoin="round" stroke-linecap="round"/>
<line x1="1218.3" y1="103.5" x2="1209.9" y2="102.03" stroke="#C8303A" stroke-width="2.2" stroke-linecap="round"/>
<line x1="1192.8" y1="81.5" x2="1195.27" y2="89.83" stroke="#C8303A" stroke-width="2.2" stroke-linecap="round"/>
<line x1="1171.3" y1="169.5" x2="1149.8" y2="160.5" stroke="#C8303A" stroke-width="2.2" stroke-linecap="round"/>
<line x1="1111.3" y1="121" x2="1124.3" y2="138.5" stroke="#C8303A" stroke-width="2.2" stroke-linecap="round"/>
<path d="M1149.8,160.5 L1128.8,170 L1111.8,155.5 L1124.3,138.5" fill="none" stroke="#C8303A" stroke-width="2.2" stroke-linejoin="round" stroke-linecap="round"/>
<line x1="1124.3" y1="138.5" x2="1132.7" y2="139.97" stroke="#C8303A" stroke-width="2.2" stroke-linecap="round"/>
<line x1="1149.8" y1="160.5" x2="1147.33" y2="152.18" stroke="#C8303A" stroke-width="2.2" stroke-linecap="round"/>
<line x1="1171.3" y1="169.5" x2="1192.8" y2="160.5" stroke="#C8303A" stroke-width="2.2" stroke-linecap="round"/>
<line x1="1231.3" y1="121" x2="1218.3" y2="138.5" stroke="#C8303A" stroke-width="2.2" stroke-linecap="round"/>
<path d="M1192.8,160.5 L1213.8,170 L1230.8,155.5 L1218.3,138.5" fill="none" stroke="#C8303A" stroke-width="2.2" stroke-linejoin="round" stroke-linecap="round"/>
<line x1="1218.3" y1="138.5" x2="1209.9" y2="139.97" stroke="#C8303A" stroke-width="2.2" stroke-linecap="round"/>
<line x1="1192.8" y1="160.5" x2="1195.27" y2="152.18" stroke="#C8303A" stroke-width="2.2" stroke-linecap="round"/>
<line x1="1215.3" y1="98.4" x2="1209.9" y2="98.4" stroke="#C8303A" stroke-width="2.2" stroke-linecap="round"/>
<circle cx="1144.9" cy="155.4" r="1.1" fill="#C8303A"/>
<line x1="1144.04" y1="84.16" x2="1130.6" y2="78.08" stroke="#C8303A" stroke-width="2.2" stroke-linecap="round"/>
<line x1="1117.92" y1="86.72" x2="1125.92" y2="97.6" stroke="#C8303A" stroke-width="2.2" stroke-linecap="round"/>
<line x1="1173.23" y1="78.1" x2="1186.99" y2="84.18" stroke="#C8303A" stroke-width="2.2" stroke-linecap="round"/>
<line x1="1213.75" y1="78.26" x2="1224.63" y2="87.54" stroke="#C8303A" stroke-width="2.2" stroke-linecap="round"/>
<line x1="1225.11" y1="121.29" x2="1216.79" y2="132.49" stroke="#C8303A" stroke-width="2.2" stroke-linecap="round"/>
<line x1="1224.63" y1="154.46" x2="1213.75" y2="163.74" stroke="#C8303A" stroke-width="2.2" stroke-linecap="round"/>
<line x1="1173.32" y1="163.45" x2="1187.08" y2="157.69" stroke="#C8303A" stroke-width="2.2" stroke-linecap="round"/>
<line x1="1117.97" y1="154.46" x2="1128.85" y2="163.74" stroke="#C8303A" stroke-width="2.2" stroke-linecap="round"/>
<line x1="1117.49" y1="121.29" x2="1125.81" y2="132.49" stroke="#C8303A" stroke-width="2.2" stroke-linecap="round"/>
<text transform="translate(1135.12,108.5) scale(1.18,1)" font-size="22.53" fill="#D42030" stroke="#D42030" stroke-width="0.5">NH</text>
<text transform="translate(1186.02,108.5) scale(1.23,1)" font-size="22.53" fill="#D42030" stroke="#D42030" stroke-width="0.5">N</text>
<text transform="translate(1135.38,150.6) scale(1.35,1)" font-size="21.8" fill="#D42030" stroke="#D42030" stroke-width="0.5">N</text>
<text transform="translate(1167.7,150.6) scale(1.17,1)" font-size="21.8" fill="#D42030" stroke="#D42030" stroke-width="0.5">HN</text>
<path d="M1170.9,12.7 L1192.4,22.2 L1192.4,42.2 L1170.9,51.7 L1149.4,42.2 L1149.4,22.2 Z" fill="none" stroke="#C8303A" stroke-width="2.2" stroke-linejoin="round" stroke-linecap="round"/>
<line x1="1173.26" y1="18.99" x2="1186.16" y2="24.69" stroke="#C8303A" stroke-width="2.2" stroke-linecap="round"/>
<line x1="1186.16" y1="39.71" x2="1173.26" y2="45.41" stroke="#C8303A" stroke-width="2.2" stroke-linecap="round"/>
<line x1="1154.2" y1="38.2" x2="1154.2" y2="26.2" stroke="#C8303A" stroke-width="2.2" stroke-linecap="round"/>
<line x1="1171.3" y1="72" x2="1170.9" y2="51.7" stroke="#C8303A" stroke-width="2.2" stroke-linecap="round"/>
<path d="M1170.9,191.7 L1192.4,201.2 L1192.4,221.2 L1170.9,230.7 L1149.4,221.2 L1149.4,201.2 Z" fill="none" stroke="#C8303A" stroke-width="2.2" stroke-linejoin="round" stroke-linecap="round"/>
<line x1="1155.64" y1="203.69" x2="1168.54" y2="197.99" stroke="#C8303A" stroke-width="2.2" stroke-linecap="round"/>
<line x1="1187.6" y1="205.2" x2="1187.6" y2="217.2" stroke="#C8303A" stroke-width="2.2" stroke-linecap="round"/>
<line x1="1168.54" y1="224.41" x2="1155.64" y2="218.71" stroke="#C8303A" stroke-width="2.2" stroke-linecap="round"/>
<line x1="1171.3" y1="169.5" x2="1170.9" y2="191.7" stroke="#C8303A" stroke-width="2.2" stroke-linecap="round"/>
<path d="M1039.4,122.4 L1050.9,105.4 L1074.9,105.4 L1086.4,122.4 L1074.9,139.4 L1050.9,139.4 Z" fill="none" stroke="#C8303A" stroke-width="2.2" stroke-linejoin="round" stroke-linecap="round"/>
<line x1="1045.68" y1="121.69" x2="1052.58" y2="111.49" stroke="#C8303A" stroke-width="2.2" stroke-linecap="round"/>
<line x1="1073.22" y1="111.49" x2="1080.12" y2="121.69" stroke="#C8303A" stroke-width="2.2" stroke-linecap="round"/>
<line x1="1070.1" y1="134.6" x2="1055.7" y2="134.6" stroke="#C8303A" stroke-width="2.2" stroke-linecap="round"/>
<line x1="1111.3" y1="121" x2="1086.4" y2="122.4" stroke="#C8303A" stroke-width="2.2" stroke-linecap="round"/>
<path d="M1256.9,121 L1268.4,104 L1292.4,104 L1303.9,121 L1292.4,138 L1268.4,138 Z" fill="none" stroke="#C8303A" stroke-width="2.2" stroke-linejoin="round" stroke-linecap="round"/>
<line x1="1273.2" y1="108.8" x2="1287.6" y2="108.8" stroke="#C8303A" stroke-width="2.2" stroke-linecap="round"/>
<line x1="1297.62" y1="121.71" x2="1290.72" y2="131.91" stroke="#C8303A" stroke-width="2.2" stroke-linecap="round"/>
<line x1="1270.08" y1="131.91" x2="1263.18" y2="121.71" stroke="#C8303A" stroke-width="2.2" stroke-linecap="round"/>
<line x1="1231.3" y1="121" x2="1256.9" y2="121" stroke="#C8303A" stroke-width="2.2" stroke-linecap="round"/>
<line x1="1170.9" y1="230.7" x2="1172" y2="236.4" stroke="#C8303A" stroke-width="1.6" stroke-linecap="round"/>
<text transform="translate(1161.09,253.47) scale(1.2,1)" font-size="23.16" fill="#D42030">O</text>
<line x1="1296.5" y1="648.3" x2="1275" y2="657.8" stroke="#C8303A" stroke-width="2.2" stroke-linecap="round"/>
<line x1="1236.5" y1="697.3" x2="1249.5" y2="679.8" stroke="#C8303A" stroke-width="2.2" stroke-linecap="round"/>
<path d="M1275,657.8 L1254,648.3 L1237,662.8 L1249.5,679.8" fill="none" stroke="#C8303A" stroke-width="2.2" stroke-linejoin="round" stroke-linecap="round"/>
<line x1="1249.5" y1="679.8" x2="1257.9" y2="678.33" stroke="#C8303A" stroke-width="2.2" stroke-linecap="round"/>
<line x1="1275" y1="657.8" x2="1272.53" y2="666.12" stroke="#C8303A" stroke-width="2.2" stroke-linecap="round"/>
<line x1="1296.5" y1="648.3" x2="1318" y2="657.8" stroke="#C8303A" stroke-width="2.2" stroke-linecap="round"/>
<line x1="1356.5" y1="697.3" x2="1343.5" y2="679.8" stroke="#C8303A" stroke-width="2.2" stroke-linecap="round"/>
<path d="M1318,657.8 L1339,648.3 L1356,662.8 L1343.5,679.8" fill="none" stroke="#C8303A" stroke-width="2.2" stroke-linejoin="round" stroke-linecap="round"/>
<line x1="1343.5" y1="679.8" x2="1335.1" y2="678.33" stroke="#C8303A" stroke-width="2.2" stroke-linecap="round"/>
<line x1="1318" y1="657.8" x2="1320.47" y2="666.12" stroke="#C8303A" stroke-width="2.2" stroke-linecap="round"/>
<line x1="1296.5" y1="745.8" x2="1275" y2="736.8" stroke="#C8303A" stroke-width="2.2" stroke-linecap="round"/>
<line x1="1236.5" y1="697.3" x2="1249.5" y2="714.8" stroke="#C8303A" stroke-width="2.2" stroke-linecap="round"/>
<path d="M1275,736.8 L1254,746.3 L1237,731.8 L1249.5,714.8" fill="none" stroke="#C8303A" stroke-width="2.2" stroke-linejoin="round" stroke-linecap="round"/>
<line x1="1249.5" y1="714.8" x2="1257.9" y2="716.27" stroke="#C8303A" stroke-width="2.2" stroke-linecap="round"/>
<line x1="1275" y1="736.8" x2="1272.53" y2="728.47" stroke="#C8303A" stroke-width="2.2" stroke-linecap="round"/>
<line x1="1296.5" y1="745.8" x2="1318" y2="736.8" stroke="#C8303A" stroke-width="2.2" stroke-linecap="round"/>
<line x1="1356.5" y1="697.3" x2="1343.5" y2="714.8" stroke="#C8303A" stroke-width="2.2" stroke-linecap="round"/>
<path d="M1318,736.8 L1339,746.3 L1356,731.8 L1343.5,714.8" fill="none" stroke="#C8303A" stroke-width="2.2" stroke-linejoin="round" stroke-linecap="round"/>
<line x1="1343.5" y1="714.8" x2="1335.1" y2="716.27" stroke="#C8303A" stroke-width="2.2" stroke-linecap="round"/>
<line x1="1318" y1="736.8" x2="1320.47" y2="728.47" stroke="#C8303A" stroke-width="2.2" stroke-linecap="round"/>
<line x1="1252" y1="720.1" x2="1257.9" y2="720.1" stroke="#C8303A" stroke-width="2.2" stroke-linecap="round"/>
<circle cx="1323.9" cy="661.7" r="1.1" fill="#C8303A"/>
<line x1="1254.05" y1="654.56" x2="1243.17" y2="663.84" stroke="#C8303A" stroke-width="2.2" stroke-linecap="round"/>
<line x1="1294.57" y1="654.4" x2="1280.81" y2="660.48" stroke="#C8303A" stroke-width="2.2" stroke-linecap="round"/>
<line x1="1338.95" y1="654.56" x2="1349.83" y2="663.84" stroke="#C8303A" stroke-width="2.2" stroke-linecap="round"/>
<line x1="1350.31" y1="697.01" x2="1341.99" y2="685.81" stroke="#C8303A" stroke-width="2.2" stroke-linecap="round"/>
<line x1="1349.83" y1="730.76" x2="1338.95" y2="740.04" stroke="#C8303A" stroke-width="2.2" stroke-linecap="round"/>
<line x1="1323.76" y1="734.14" x2="1337.2" y2="740.22" stroke="#C8303A" stroke-width="2.2" stroke-linecap="round"/>
<line x1="1294.48" y1="739.75" x2="1280.72" y2="733.99" stroke="#C8303A" stroke-width="2.2" stroke-linecap="round"/>
<line x1="1243.17" y1="730.76" x2="1254.05" y2="740.04" stroke="#C8303A" stroke-width="2.2" stroke-linecap="round"/>
<line x1="1242.69" y1="697.01" x2="1251.01" y2="685.81" stroke="#C8303A" stroke-width="2.2" stroke-linecap="round"/>
<text transform="translate(1260.32,684.8) scale(1.18,1)" font-size="22.53" fill="#D42030" stroke="#D42030" stroke-width="0.5">NH</text>
<text transform="translate(1311.22,684.8) scale(1.23,1)" font-size="22.53" fill="#D42030" stroke="#D42030" stroke-width="0.5">N</text>
<text transform="translate(1260.58,726.9) scale(1.35,1)" font-size="21.8" fill="#D42030" stroke="#D42030" stroke-width="0.5">N</text>
<text transform="translate(1292.9,726.9) scale(1.17,1)" font-size="21.8" fill="#D42030" stroke="#D42030" stroke-width="0.5">HN</text>
<path d="M1297,589.5 L1318.5,599 L1318.5,619 L1297,628.5 L1275.5,619 L1275.5,599 Z" fill="none" stroke="#C8303A" stroke-width="2.2" stroke-linejoin="round" stroke-linecap="round"/>
<line x1="1281.74" y1="601.49" x2="1294.64" y2="595.79" stroke="#C8303A" stroke-width="2.2" stroke-linecap="round"/>
<line x1="1313.7" y1="603" x2="1313.7" y2="615" stroke="#C8303A" stroke-width="2.2" stroke-linecap="round"/>
<line x1="1294.64" y1="622.21" x2="1281.74" y2="616.51" stroke="#C8303A" stroke-width="2.2" stroke-linecap="round"/>
<line x1="1296.5" y1="648.3" x2="1297" y2="628.5" stroke="#C8303A" stroke-width="2.2" stroke-linecap="round"/>
<path d="M1297.2,765.9 L1318.7,775.4 L1318.7,795.4 L1297.2,804.9 L1275.7,795.4 L1275.7,775.4 Z" fill="none" stroke="#C8303A" stroke-width="2.2" stroke-linejoin="round" stroke-linecap="round"/>
<line x1="1299.56" y1="772.19" x2="1312.46" y2="777.89" stroke="#C8303A" stroke-width="2.2" stroke-linecap="round"/>
<line x1="1312.46" y1="792.91" x2="1299.56" y2="798.61" stroke="#C8303A" stroke-width="2.2" stroke-linecap="round"/>
<line x1="1280.5" y1="791.4" x2="1280.5" y2="779.4" stroke="#C8303A" stroke-width="2.2" stroke-linecap="round"/>
<line x1="1296.5" y1="745.8" x2="1297.2" y2="765.9" stroke="#C8303A" stroke-width="2.2" stroke-linecap="round"/>
<path d="M1164.8,698 L1176.3,681 L1200.3,681 L1211.8,698 L1200.3,715 L1176.3,715 Z" fill="none" stroke="#C8303A" stroke-width="2.2" stroke-linejoin="round" stroke-linecap="round"/>
<line x1="1171.08" y1="697.29" x2="1177.98" y2="687.09" stroke="#C8303A" stroke-width="2.2" stroke-linecap="round"/>
<line x1="1198.62" y1="687.09" x2="1205.52" y2="697.29" stroke="#C8303A" stroke-width="2.2" stroke-linecap="round"/>
<line x1="1195.5" y1="710.2" x2="1181.1" y2="710.2" stroke="#C8303A" stroke-width="2.2" stroke-linecap="round"/>
<line x1="1236.5" y1="697.3" x2="1211.8" y2="698" stroke="#C8303A" stroke-width="2.2" stroke-linecap="round"/>
<path d="M1382.6,696.5 L1394.1,679.5 L1418.1,679.5 L1429.6,696.5 L1418.1,713.5 L1394.1,713.5 Z" fill="none" stroke="#C8303A" stroke-width="2.2" stroke-linejoin="round" stroke-linecap="round"/>
<line x1="1398.9" y1="684.3" x2="1413.3" y2="684.3" stroke="#C8303A" stroke-width="2.2" stroke-linecap="round"/>
<line x1="1423.32" y1="697.21" x2="1416.42" y2="707.41" stroke="#C8303A" stroke-width="2.2" stroke-linecap="round"/>
<line x1="1395.78" y1="707.41" x2="1388.88" y2="697.21" stroke="#C8303A" stroke-width="2.2" stroke-linecap="round"/>
<line x1="1356.5" y1="697.3" x2="1382.6" y2="696.5" stroke="#C8303A" stroke-width="2.2" stroke-linecap="round"/>
<line x1="1297" y1="589.5" x2="1297" y2="582" stroke="#C8303A" stroke-width="1.6" stroke-linecap="round"/>
<text transform="translate(1285.12,581.19) scale(1.34,1)" font-size="21.75" fill="#D42030">O</text>
<line x1="171.97" y1="197.01" x2="149.11" y2="206.99" stroke="#E0A8E0" stroke-width="1.8" stroke-linecap="round"/>
<line x1="108.63" y1="247.35" x2="122.21" y2="229.56" stroke="#E0A8E0" stroke-width="1.8" stroke-linecap="round"/>
<path d="M149.11,206.99 L126.38,197.97 L108.45,212.84 L122.21,229.56" fill="none" stroke="#E0A8E0" stroke-width="1.8" stroke-linejoin="round" stroke-linecap="round"/>
<line x1="122.21" y1="229.56" x2="131.19" y2="227.9" stroke="#E0A8E0" stroke-width="1.8" stroke-linecap="round"/>
<line x1="149.11" y1="206.99" x2="146.63" y2="215.37" stroke="#E0A8E0" stroke-width="1.8" stroke-linecap="round"/>
<line x1="171.97" y1="197.01" x2="195.24" y2="206.03" stroke="#E0A8E0" stroke-width="1.8" stroke-linecap="round"/>
<line x1="237.37" y1="244.65" x2="223.05" y2="227.45" stroke="#E0A8E0" stroke-width="1.8" stroke-linecap="round"/>
<path d="M195.24,206.03 L217.57,196.06 L236.11,210.17 L223.05,227.45" fill="none" stroke="#E0A8E0" stroke-width="1.8" stroke-linejoin="round" stroke-linecap="round"/>
<line x1="223.05" y1="227.45" x2="214.01" y2="226.17" stroke="#E0A8E0" stroke-width="1.8" stroke-linecap="round"/>
<line x1="195.24" y1="206.03" x2="198.07" y2="214.29" stroke="#E0A8E0" stroke-width="1.8" stroke-linecap="round"/>
<line x1="174.02" y1="294.49" x2="150.76" y2="285.97" stroke="#E0A8E0" stroke-width="1.8" stroke-linecap="round"/>
<line x1="108.63" y1="247.35" x2="122.95" y2="264.55" stroke="#E0A8E0" stroke-width="1.8" stroke-linecap="round"/>
<path d="M150.76,285.97 L128.43,295.94 L109.89,281.83 L122.95,264.55" fill="none" stroke="#E0A8E0" stroke-width="1.8" stroke-linejoin="round" stroke-linecap="round"/>
<line x1="122.95" y1="264.55" x2="131.99" y2="265.83" stroke="#E0A8E0" stroke-width="1.8" stroke-linecap="round"/>
<line x1="150.76" y1="285.97" x2="147.93" y2="277.71" stroke="#E0A8E0" stroke-width="1.8" stroke-linecap="round"/>
<line x1="174.02" y1="294.49" x2="196.89" y2="285.01" stroke="#E0A8E0" stroke-width="1.8" stroke-linecap="round"/>
<line x1="237.37" y1="244.65" x2="223.79" y2="262.44" stroke="#E0A8E0" stroke-width="1.8" stroke-linecap="round"/>
<path d="M196.89,285.01 L219.62,294.03 L237.55,279.16 L223.79,262.44" fill="none" stroke="#E0A8E0" stroke-width="1.8" stroke-linejoin="round" stroke-linecap="round"/>
<line x1="223.79" y1="262.44" x2="214.81" y2="264.1" stroke="#E0A8E0" stroke-width="1.8" stroke-linecap="round"/>
<line x1="196.89" y1="285.01" x2="199.37" y2="276.63" stroke="#E0A8E0" stroke-width="1.8" stroke-linecap="round"/>
<line x1="219.73" y1="222.42" x2="213.94" y2="222.54" stroke="#E0A8E0" stroke-width="1.8" stroke-linecap="round"/>
<circle cx="145.4" cy="280.99" r="1.1" fill="#E0A8E0"/>
<line x1="143.25" y1="209.83" x2="128.7" y2="204.05" stroke="#E0A8E0" stroke-width="1.8" stroke-linecap="round"/>
<line x1="114.63" y1="212.8" x2="123.44" y2="223.5" stroke="#E0A8E0" stroke-width="1.8" stroke-linecap="round"/>
<line x1="174.43" y1="203.11" x2="189.32" y2="208.88" stroke="#E0A8E0" stroke-width="1.8" stroke-linecap="round"/>
<line x1="218" y1="202.42" x2="229.86" y2="211.45" stroke="#E0A8E0" stroke-width="1.8" stroke-linecap="round"/>
<line x1="231.11" y1="244.94" x2="222.42" y2="256.33" stroke="#E0A8E0" stroke-width="1.8" stroke-linecap="round"/>
<line x1="231.26" y1="278.14" x2="219.78" y2="287.66" stroke="#E0A8E0" stroke-width="1.8" stroke-linecap="round"/>
<line x1="176.3" y1="288.35" x2="190.94" y2="282.28" stroke="#E0A8E0" stroke-width="1.8" stroke-linecap="round"/>
<line x1="116.14" y1="280.55" x2="128" y2="289.58" stroke="#E0A8E0" stroke-width="1.8" stroke-linecap="round"/>
<line x1="114.9" y1="247.38" x2="124.06" y2="258.39" stroke="#E0A8E0" stroke-width="1.8" stroke-linecap="round"/>
<text transform="translate(135.08,231.7) scale(1.28,1)" font-size="19.19" fill="#E028DC" stroke="#E028DC" stroke-width="0.5">NH</text>
<text transform="translate(190.17,231.7) scale(1.35,1)" font-size="19.19" fill="#E028DC" stroke="#E028DC" stroke-width="0.5">N</text>
<text transform="translate(136.18,274.4) scale(1.49,1)" font-size="18.17" fill="#E028DC" stroke="#E028DC" stroke-width="0.5">N</text>
<text transform="translate(173.18,273.7) scale(1.37,1)" font-size="18.02" fill="#E028DC" stroke="#E028DC" stroke-width="0.5">HN</text>
<path d="M171.6,137.5 L194.6,147.4 L194.6,166 L171.6,175.9 L148.6,166 L148.6,147.4 Z" fill="none" stroke="#E0A8E0" stroke-width="1.8" stroke-linejoin="round" stroke-linecap="round"/>
<line x1="174.3" y1="143.89" x2="188.1" y2="149.83" stroke="#E0A8E0" stroke-width="1.8" stroke-linecap="round"/>
<line x1="153.4" y1="162.28" x2="153.4" y2="151.12" stroke="#E0A8E0" stroke-width="1.8" stroke-linecap="round"/>
<line x1="188.1" y1="163.57" x2="174.3" y2="169.51" stroke="#E0A8E0" stroke-width="1.8" stroke-linecap="round"/>
<line x1="171.97" y1="197.01" x2="171.6" y2="175.9" stroke="#E0A8E0" stroke-width="1.8" stroke-linecap="round"/>
<line x1="171.6" y1="137.5" x2="171.1" y2="125.2" stroke="#E0A8E0" stroke-width="1.8" stroke-linecap="round"/>
<text transform="translate(161.11,124.4) scale(1.25,1)" font-size="20.06" fill="#E028DC" stroke="#E028DC" stroke-width="0.8">OH</text>
<line x1="108.63" y1="247.35" x2="76.1" y2="247.7" stroke="#E0A8E0" stroke-width="1.8" stroke-linecap="round"/>
<path d="M43.2,242.9 L55.5,235.9 L76.1,247.7 L70,267 L43.2,267 L38.8,257.8" fill="none" stroke="#E0A8E0" stroke-width="1.8" stroke-linejoin="round" stroke-linecap="round"/>
<line x1="56.35" y1="241.57" x2="70.77" y2="249.83" stroke="#E0A8E0" stroke-width="1.8" stroke-linecap="round"/>
<text transform="translate(26.72,255.4) scale(1.26,1)" font-size="20.48" fill="#E028DC" stroke="#E028DC" stroke-width="0.8">S</text>
<line x1="237.37" y1="244.65" x2="265.1" y2="245.1" stroke="#E0A8E0" stroke-width="1.8" stroke-linecap="round"/>
<path d="M297.5,242.4 L287.4,234.5 L265.1,245.1 L268.6,263.5 L295.7,265.7 L300.1,255.6" fill="none" stroke="#E0A8E0" stroke-width="1.8" stroke-linejoin="round" stroke-linecap="round"/>
<line x1="270.38" y1="247.57" x2="285.99" y2="240.15" stroke="#E0A8E0" stroke-width="1.8" stroke-linecap="round"/>
<line x1="273.03" y1="259.34" x2="292" y2="260.88" stroke="#E0A8E0" stroke-width="1.8" stroke-linecap="round"/>
<text transform="translate(297.7,255.4) scale(1.19,1)" font-size="20.48" fill="#E028DC" stroke="#E028DC" stroke-width="0.8">S</text>
<line x1="174.02" y1="294.49" x2="173.8" y2="313.9" stroke="#E0A8E0" stroke-width="1.8" stroke-linecap="round"/>
<path d="M192.2,335.8 L196.6,325.3 L173.8,313.9 L153.2,326.2 L162.4,345 L179.1,344.6" fill="none" stroke="#E0A8E0" stroke-width="1.8" stroke-linejoin="round" stroke-linecap="round"/>
<line x1="175.21" y1="319.63" x2="191.17" y2="327.61" stroke="#E0A8E0" stroke-width="1.8" stroke-linecap="round"/>
<line x1="158.62" y1="327.04" x2="165.06" y2="340.2" stroke="#E0A8E0" stroke-width="1.8" stroke-linecap="round"/>
<text transform="translate(179.66,351.79) scale(1.2,1)" font-size="21.04" fill="#E028DC" stroke="#E028DC" stroke-width="0.8">S</text>
<path d="M734.8,902 L736.4,899.6 L738,902 Z" fill="#000"/>
<text transform="translate(293.93,338.2) scale(1.35,1)" font-size="18.02" fill="#000" font-weight="bold" stroke="#000" stroke-width="0.2">TTP</text>
<text transform="translate(828.51,853.3) scale(1.19,1)" font-size="21.66" fill="#000" font-weight="bold" stroke="#000" stroke-width="0.2">TPP</text>
</svg>
</body></html>
